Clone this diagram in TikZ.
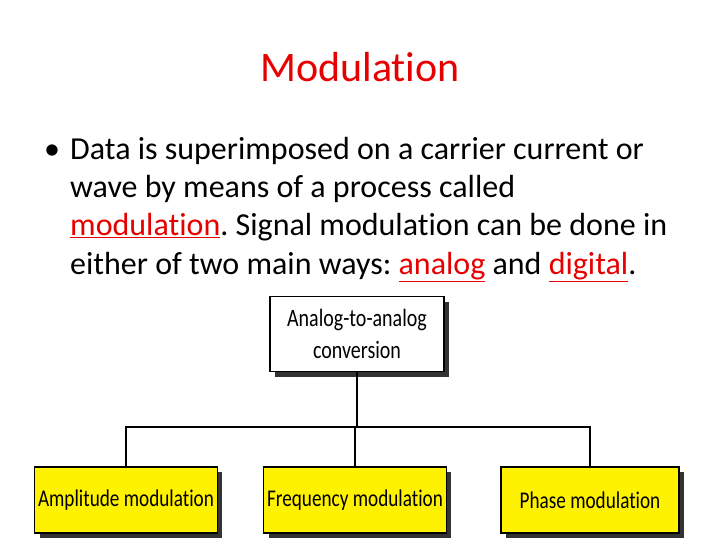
\documentclass[tikz,border=0pt]{standalone}
\usepackage{fontspec}
\setmainfont{Carlito}[Ligatures=NoCommon]
\newfontfamily\cond{Carlito}[FakeStretch=0.8,Ligatures=NoCommon]
\usetikzlibrary{shadows}
\definecolor{tred}{RGB}{230,0,0}
\newcommand{\ru}[1]{{\color{tred}\underline{#1}}}
\frenchspacing
\begin{document}
\begin{tikzpicture}[x=1pt,y=-1pt,
  box/.style={draw=black,line width=1.2pt,minimum height=66pt,align=center,font=\cond\fontsize{24}{31}\selectfont,
    drop shadow={shadow xshift=5pt,shadow yshift=-5pt,fill=black!80,opacity=1}},
  ybox/.style={box,fill=yellow},
  txt/.style={anchor=base west,inner sep=0pt,font=\fontsize{32}{34}\selectfont},
  con/.style={line width=1.3pt}]
\useasboundingbox (0,0) rectangle (720,540);
\node[font=\fontsize{42}{46}\selectfont,text=tred] (title) at (360,67) {Modulation};
\node[txt] (b0) at (44,160) {•};
\node[txt] (l1) at (70,160) {Data is superimposed on a carrier current or};
\node[txt] (l2) at (70,198) {wave by means of a process called};
\node[txt] (l3) at (70,236) {\ru{modulation}. Signal modulation can be done in};
\node[txt] (l4) at (70,274) {either of two main ways: \ru{analog} and \ru{digital}.};
\node[box,fill=white,minimum width=174pt,minimum height=75pt,font=\cond\fontsize{25}{32}\selectfont] (top) at (357,334) {Analog-to-analog\\conversion};
\node[ybox,minimum width=178pt] (am) at (126,500) {Amplitude modulation};
\node[ybox,minimum width=176pt] (fm) at (355,500) {Frequency modulation};
\node[ybox,minimum width=178pt] (pm) at (590,500) {Phase modulation};
\coordinate (j) at (357,427);
\draw[con] (top.south) -- (j);
\draw[con] (am.north) |- (j) -| (pm.north);
\draw[con] (j) -| (fm.north);
\end{tikzpicture}
\end{document}
